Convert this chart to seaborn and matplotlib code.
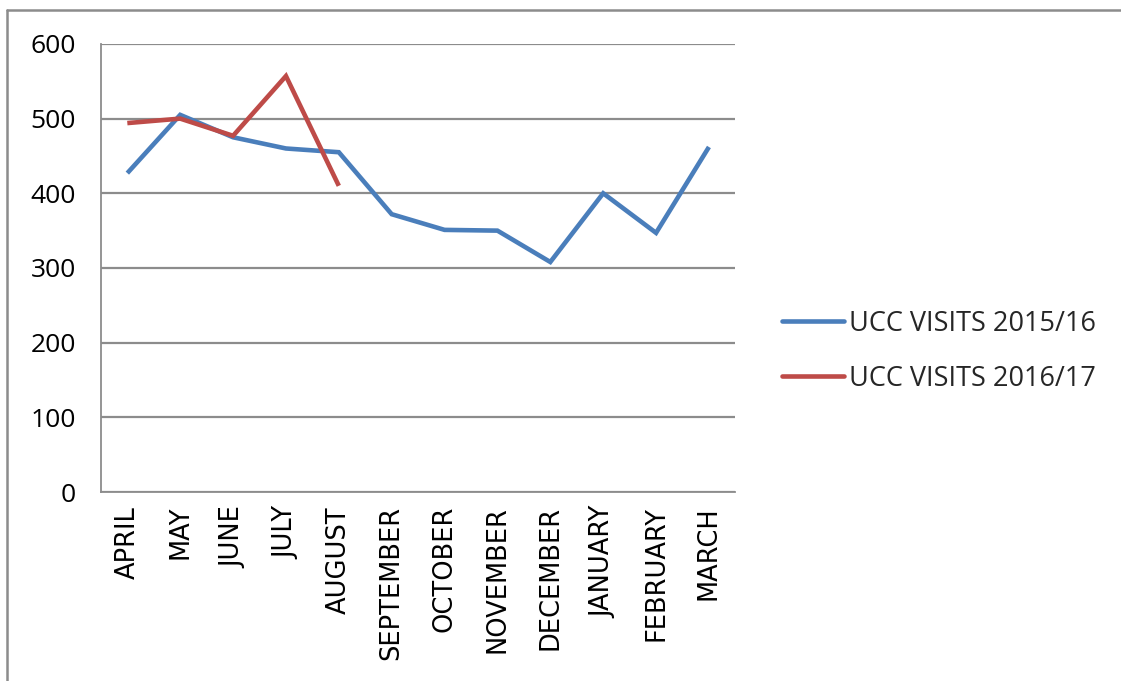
import pandas as pd
import numpy as np
import matplotlib
matplotlib.use("Agg")
import matplotlib.pyplot as plt
from matplotlib.lines import Line2D
import seaborn as sns

months = ["APRIL", "MAY", "JUNE", "JULY", "AUGUST", "SEPTEMBER", "OCTOBER",
          "NOVEMBER", "DECEMBER", "JANUARY", "FEBRUARY", "MARCH"]
visits_2015_16 = [427, 505, 475, 460, 455, 372, 351, 350, 308, 400, 347, 462]
visits_2016_17 = [494, 500, 477, 557, 410, None, None, None, None, None, None, None]
series_names = ["UCC VISITS 2015/16", "UCC VISITS 2016/17"]
series_colors = ["#4A7EBB", "#BE4B48"]
y_ticks = [0, 100, 200, 300, 400, 500, 600]

sns.set_theme(style="white")
plt.rcParams["font.family"] = ["Open Sans", "DejaVu Sans"]

df = pd.DataFrame({
    "month": months * 2,
    "pos": list(range(len(months))) * 2,
    "visits": visits_2015_16 + visits_2016_17,
    "series": [series_names[0]] * len(months) + [series_names[1]] * len(months),
}).dropna()

fig = plt.figure(figsize=(11.21, 6.81), dpi=100)
ax = fig.add_axes([0.090, 0.2775, 0.566, 0.658])

sns.lineplot(data=df, x="pos", y="visits", hue="series", hue_order=series_names,
             palette=series_colors, linewidth=3.3, ax=ax, legend=False,
             solid_joinstyle="miter", solid_capstyle="butt")

grid_color = "#8C8C8C"
ax.set_xlim(-0.5, len(months) - 0.5)
ax.set_ylim(0, 600)
ax.set_yticks(y_ticks)
ax.yaxis.grid(True, color=grid_color, linewidth=1.6)
ax.set_axisbelow(True)
for side in ["top", "right"]:
    ax.spines[side].set_visible(False)
for side in ["left", "bottom"]:
    ax.spines[side].set_color(grid_color)
    ax.spines[side].set_linewidth(1.3)

# boundary ticks (major) and labels at centres (minor)
ax.set_xticks(np.arange(-0.5, len(months), 1.0))
ax.set_xticklabels([])
ax.set_xticks(np.arange(len(months)), minor=True)
ax.set_xticklabels(months, minor=True)
ax.tick_params(axis="x", which="major", length=8, width=1.3, color=grid_color, direction="out")
ax.tick_params(axis="x", which="minor", length=0, pad=10, labelrotation=90,
               labelsize=18.5, labelcolor="#000000")
ax.tick_params(axis="y", length=8, width=1.3, color=grid_color, direction="out",
               labelsize=19, pad=10, labelcolor="#000000")
for lbl in ax.get_xticklabels(minor=True):
    lbl.set_fontfamily("DejaVu Sans")
ax.set_xlabel("")
ax.set_ylabel("")

handles = [Line2D([0], [0], color=c, linewidth=3.3) for c in series_colors]
fig.legend(handles, series_names, loc="center left", bbox_to_anchor=(0.676, 0.484),
           frameon=False, fontsize=19.5, handlelength=2.3, handletextpad=0.15,
           labelspacing=1.0)

# chart border (top and left edges visible)
fig.add_artist(Line2D([0.0065, 1.0], [0.985, 0.985], transform=fig.transFigure,
                      color="#8C8C8C", linewidth=1.8))
fig.add_artist(Line2D([0.0065, 0.0065], [0.0, 0.985], transform=fig.transFigure,
                      color="#8C8C8C", linewidth=1.8))

fig.savefig("out.png", dpi=100, facecolor="white")
